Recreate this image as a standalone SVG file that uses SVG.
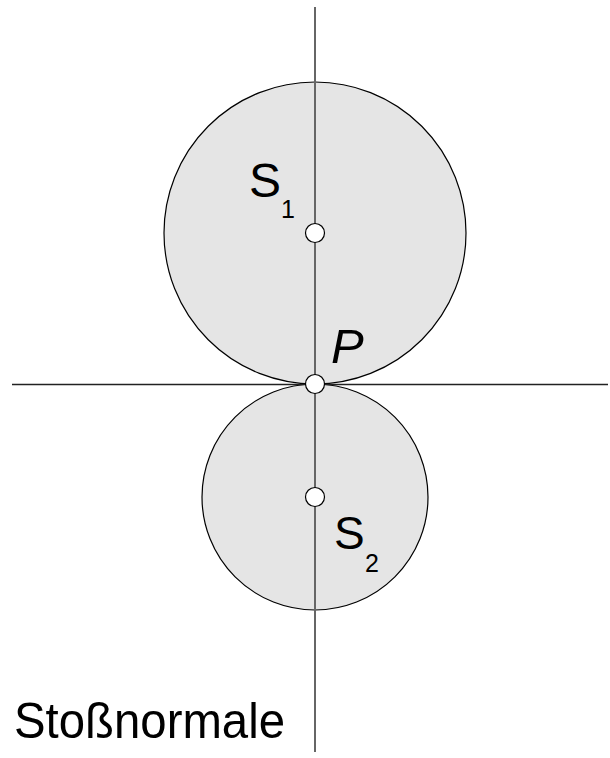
<svg xmlns="http://www.w3.org/2000/svg" width="610" height="758" viewBox="0 0 610 758">
<style>
.body{fill:#e5e5e5;stroke:#000;stroke-width:1.2}
.dot{fill:#fff;stroke:#000;stroke-width:1.2}
.lbl{font-family:"Liberation Sans",Arial,sans-serif;fill:#000}
</style>
<rect width="610" height="758" fill="#fff"/>
<g id="body1"><circle class="body" cx="315" cy="233" r="151"/></g>
<g id="body2"><circle class="body" cx="315" cy="497" r="113"/></g>
<g id="connectors">
<line x1="315" y1="7" x2="315" y2="752" stroke="#666" stroke-width="2"/>
<line x1="12" y1="384.5" x2="608" y2="384.5" stroke="#222" stroke-width="1.5"/>
</g>
<g id="S1"><circle class="dot" cx="315" cy="233" r="9.5"/>
<text class="lbl" x="249" y="197" font-size="48">S</text><text class="lbl" x="281" y="218" font-size="25">1</text></g>
<g id="P"><circle class="dot" cx="315" cy="384" r="9.5"/>
<text class="lbl" x="331" y="363" font-size="49" font-style="italic">P</text></g>
<g id="S2"><circle class="dot" cx="315" cy="497" r="9.5"/>
<text class="lbl" x="334" y="549" font-size="46">S</text><text class="lbl" x="365" y="572" font-size="25">2</text></g>
<g id="label"><text class="lbl" x="14" y="738" font-size="50" textLength="271" lengthAdjust="spacingAndGlyphs">Stoßnormale</text></g>
</svg>
